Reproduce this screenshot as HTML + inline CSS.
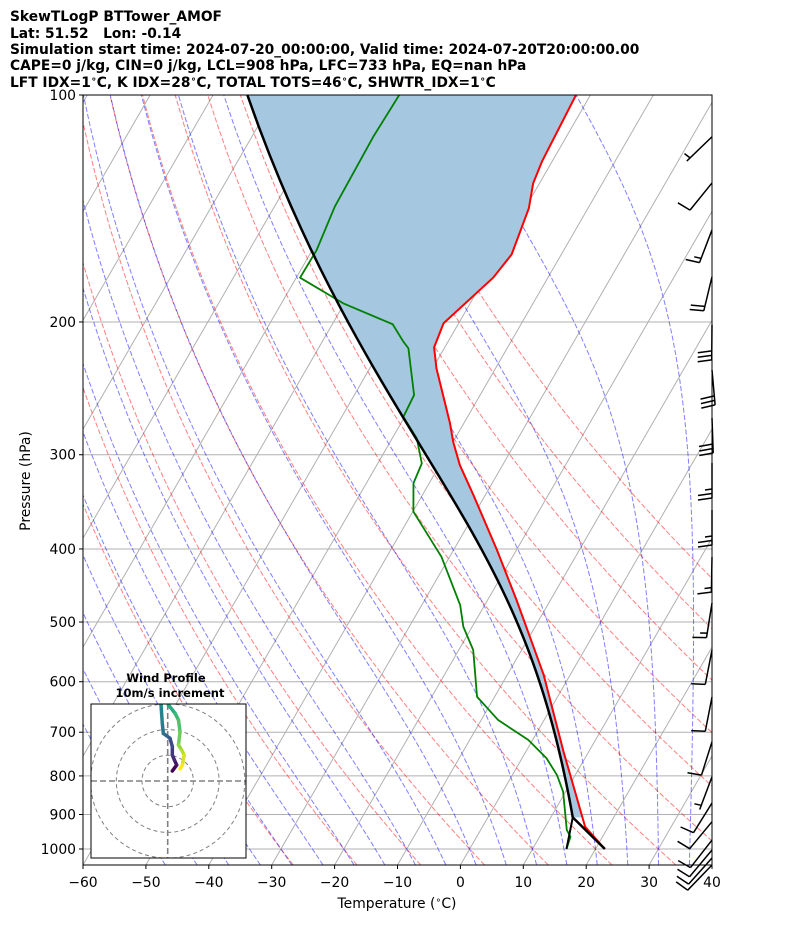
<!DOCTYPE html>
<html><head><meta charset="utf-8"><style>
html,body{margin:0;padding:0;background:#fff;width:794px;height:937px;overflow:hidden}
svg{display:block;font-family:"DejaVu Sans","Liberation Sans",sans-serif}
</style></head><body>
<svg id="chart" width="794" height="937" viewBox="0 0 794 937" xmlns="http://www.w3.org/2000/svg">
<defs>
<clipPath id="plotclip"><rect x="83" y="95" width="629" height="770"/></clipPath>
<clipPath id="hodoclip"><rect x="91" y="704" width="155" height="154"/></clipPath>
</defs>
<g font-weight="bold" font-size="13.8" fill="#000">
<text x="10" y="21">SkewTLogP BTTower_AMOF</text>
<text x="10" y="38">Lat: 51.52&#160;&#160;&#160;Lon: -0.14</text>
<text x="10" y="54">Simulation start time: 2024-07-20_00:00:00, Valid time: 2024-07-20T20:00:00.00</text>
<text x="10" y="70">CAPE=0 j/kg, CIN=0 j/kg, LCL=908 hPa, LFC=733 hPa, EQ=nan hPa</text>
<text x="10" y="87">LFT IDX=1<tspan font-size="9.5" dy="-5">∘</tspan><tspan dy="5">C, K IDX=28</tspan><tspan font-size="9.5" dy="-5">∘</tspan><tspan dy="5">C, TOTAL TOTS=46</tspan><tspan font-size="9.5" dy="-5">∘</tspan><tspan dy="5">C, SHWTR_IDX=1</tspan><tspan font-size="9.5" dy="-5">∘</tspan><tspan dy="5">C</tspan></text>
</g>
<g id="plot" clip-path="url(#plotclip)"></g>
<g id="barbs"></g>
<rect x="83" y="95" width="629" height="770" fill="none" stroke="#000" stroke-width="1"/>
<g id="axes" font-size="13.9" fill="#000"></g>
<text x="30" y="481" font-size="13.9" text-anchor="middle" transform="rotate(-90 30 481)">Pressure (hPa)</text>
<text x="397" y="908" font-size="13.9" text-anchor="middle">Temperature (<tspan font-size="9.5" dy="-5">∘</tspan><tspan dy="5">C)</tspan></text>
<g id="hodo"></g>
</svg>
<script>
// ---- data ----
const tempP = [1000,934,852.6,743,587.7,467.5,401.3,339.2,309.6,288.3,272.5,230.4,216.1,200.8,174.7,162.7,141.3,131,122.6,100];
const tempT = [21.5,16.3,12.2,6.0,-4.2,-15.4,-23.1,-31.9,-36.8,-40.0,-42.2,-49.4,-51.7,-52.4,-48.7,-47.9,-49.4,-51.0,-51.6,-52.3];
const dewP = [1000,963.1,943.6,839.4,797.9,758,716.6,674.5,628.1,544.6,507.3,474.7,409.7,357,327.3,308,285.3,267.2,250,216.7,212.4,201.4,188.9,174.7,160.6,140.6,113.6,100];
const dewT = [15.4,14.9,13.7,9.6,7.1,3.9,-0.7,-7.3,-12.8,-17.7,-21.4,-23.9,-31.3,-39.9,-42.5,-43.0,-46.1,-50.2,-50.5,-55.7,-57.1,-60.4,-70.2,-79.4,-79.3,-80.4,-80.7,-80.4];
const lclP = 908;
const xTicks = [-60,-50,-40,-30,-20,-10,0,10,20,30,40];
const yTicks = [100,200,300,400,500,600,700,800,900,1000];
const barbP = [113.6,130.8,151,174.2,201.8,231.6,268.2,307.7,355.1,410.1,471.8,544.6,628.6,720.6,802,869,920,973,1003,1028,1050];
const barbSpd = [5,10,15,20,30,30,30,25,25,15,15,10,10,10,5,10,10,10,10,10,10];
const barbDir = [226,219,201,193.5,180.5,175,178,180,180,181,189,191,191,197.5,200.5,212,219.5,218,220,222,224];
const hodoU = [1.8,3.5,2.6,1.8,1.8,0.9,-0.4,-1.7,-2.1,-2.6,-1.0,0.3,2.9,4.2,4.8,4.2,5.4,6.4,5.7,4.8];
const hodoV = [3.9,6.2,8.2,10.1,13.4,16.6,17.6,18.5,22.4,29.6,37.6,29.6,26.3,23.7,19.2,14.0,12.1,10.1,6.2,4.7];

// ---- axes ----
const NS='http://www.w3.org/2000/svg';
const X0=83,X1=712,Y0=95,Y1=865,XS=6.29,SK=Math.tan(Math.PI/6);
const DASH='5.1,2.2';
function yP(p){return 849+754*Math.log10(p/1000);}
function xT(T,p){return X0+(T+60)*XS+SK*(Y1-yP(p));}
function mk(tag,attrs,parent){const e=document.createElementNS(NS,tag);for(const k in attrs)e.setAttribute(k,attrs[k]);parent.appendChild(e);return e;}
function pathD(ps,ts){let d='';for(let i=0;i<ps.length;i++){d+=(i?'L':'M')+xT(ts[i],ps[i]).toFixed(2)+','+yP(ps[i]).toFixed(2);}return d;}
const plot=document.getElementById('plot');
const axes=document.getElementById('axes');

const Rd=287.04,Cp=1005.7,Lv=2.501e6,EPS=0.622,KAP=Rd/Cp;
function es(Tc){return 6.112*Math.exp(17.67*Tc/(Tc+243.5));}
function dTdp(p,Tk){const e=es(Tk-273.15);const rs=EPS*e/(p-e);return (Rd*Tk+Lv*rs)/(p*(Cp+Lv*Lv*rs*EPS/(Rd*Tk*Tk)));}
function moist(p0,T0c,pts){const res=[];let T=T0c+273.15,p=p0;
  for(const pt of pts){const n=Math.max(1,Math.ceil(Math.abs(pt-p)/5));const h=(pt-p)/n;
    for(let i=0;i<n;i++){const k1=dTdp(p,T),k2=dTdp(p+h/2,T+h*k1/2),k3=dTdp(p+h/2,T+h*k2/2),k4=dTdp(p+h,T+h*k3);T+=h*(k1+2*k2+2*k3+k4)/6;p+=h;}
    res.push(T-273.15);}
  return res;}
const pUp=[],pDown=[];
for(let p=1000;p>=100;p-=10)pUp.push(p);
pDown.push(1025,1050);

for(const p of yTicks){const l=mk('line',{x1:X0,x2:X1,y1:yP(p),y2:yP(p),stroke:'#b0b0b0','stroke-width':1},plot);

}
for(let T=-170;T<=40;T+=10){const l=mk('line',{x1:xT(T,1050),y1:Y1,x2:xT(T,100),y2:Y0,stroke:'#b0b0b0','stroke-width':1},plot);

}
const pAll=[];for(let p=1050;p>=100;p-=10)pAll.push(p);
for(let th=243.15;th<=363.2;th+=10){const ts=pAll.map(p=>th*Math.pow(p/1000,KAP)-273.15);
const e=mk('path',{d:pathD(pAll,ts),fill:'none',stroke:'rgba(255,0,0,0.5)','stroke-width':1,'stroke-dasharray':DASH},plot);

}
for(let t0=-50;t0<=40;t0+=5){const up=moist(1000,t0,pUp);const dn=moist(1000,t0,pDown);
const ps=[1050,1025].concat(pUp),ts=[dn[1],dn[0]].concat(up);
const e=mk('path',{d:pathD(ps,ts),fill:'none',stroke:'rgba(0,0,255,0.5)','stroke-width':1,'stroke-dasharray':DASH},plot);

}

const Tsfc=tempT[0];
const Tlcl=(Tsfc+273.15)*Math.pow(lclP/tempP[0],KAP)-273.15;
const parP=[lclP];for(let p=900;p>=100;p-=10)parP.push(p);
const parT=[Tlcl].concat(moist(lclP,Tlcl,parP.slice(1)));
function interpT(p){for(let i=0;i<tempP.length-1;i++){if(p<=tempP[i]&&p>=tempP[i+1]){const f=Math.log(p/tempP[i])/Math.log(tempP[i+1]/tempP[i]);return tempT[i]+f*(tempT[i+1]-tempT[i]);}}return tempT[tempT.length-1];}
let sd=pathD(parP,parT);
const tp=[],tt=[];for(let i=tempP.length-1;i>=0;i--){if(tempP[i]<lclP){tp.push(tempP[i]);tt.push(tempT[i]);}}
tp.push(lclP);tt.push(interpT(lclP));
for(let i=0;i<tp.length;i++)sd+='L'+xT(tt[i],tp[i]).toFixed(2)+','+yP(tp[i]).toFixed(2);
const sh=mk('path',{d:sd+'Z',fill:'rgb(165,200,224)',stroke:'none'},plot);


const tl=mk('path',{d:pathD(tempP,tempT),fill:'none',stroke:'#ff0000','stroke-width':2,'stroke-linejoin':'round'},plot);


const dl=mk('path',{d:pathD(dewP,dewT),fill:'none',stroke:'#008000','stroke-width':1.8,'stroke-linejoin':'round'},plot);


const pl=mk('path',{d:pathD([tempP[0]].concat(parP),[Tsfc].concat(parT)),fill:'none',stroke:'#000','stroke-width':2.5,'stroke-linejoin':'round'},plot);


const ll=mk('path',{d:pathD([dewP[0],lclP],[dewT[0],Tlcl]),fill:'none',stroke:'#000','stroke-width':2},plot);



for(const T of xTicks){const x=X0+(T+60)*XS;
const t=mk('line',{x1:x,x2:x,y1:Y1,y2:Y1+4,stroke:'#000','stroke-width':1},axes);


const tx=mk('text',{x:x,y:Y1+22,'text-anchor':'middle'},axes);tx.textContent=(T<0?'\u2212'+(-T):''+T);

}
for(const p of yTicks){const y=yP(p);
const t=mk('line',{x1:X0-4,x2:X0,y1:y,y2:y,stroke:'#000','stroke-width':1},axes);


const tx=mk('text',{x:X0-7,y:y+5,'text-anchor':'end'},axes);tx.textContent=''+p;

}

const bg=document.getElementById('barbs');const L=35;
for(let i=0;i<barbP.length;i++){const y=yP(barbP[i]),x=X1;const a=barbDir[i]*Math.PI/180;
const dx=Math.sin(a),dy=-Math.cos(a);const px=-dy,py=dx;
const g=mk('g',{stroke:'#000','stroke-width':1.5,fill:'none'},bg);


const ex=x+dx*L,ey=y+dy*L;let d='M'+x+','+y+'L'+ex.toFixed(1)+','+ey.toFixed(1);
let s=barbSpd[i];let pos=0;const full=Math.floor(s/10);const half=(s%10)>=5?1:0;
for(let k=0;k<full;k++){const bx=ex-dx*pos,by=ey-dy*pos;d+='M'+bx.toFixed(1)+','+by.toFixed(1)+'l'+(px*14+dx*2).toFixed(1)+','+(py*14+dy*2).toFixed(1);pos+=4.5;}
if(half){if(full===0)pos=4.5;const bx=ex-dx*pos,by=ey-dy*pos;d+='M'+bx.toFixed(1)+','+by.toFixed(1)+'l'+(px*7+dx*1).toFixed(1)+','+(py*7+dy*1).toFixed(1);}
mk('path',{d:d},g);}

const hg=document.getElementById('hodo');const HC={x:167.7,y:781},HS=2.57;
mk('rect',{x:91,y:704,width:155,height:154,fill:'#fff',stroke:'none'},hg);
const hin=mk('g',{'clip-path':'url(#hodoclip)'},hg);
for(const r of [10,20,30]){const c=mk('circle',{cx:HC.x,cy:HC.y,r:r*HS,fill:'none',stroke:'#808080','stroke-width':1,'stroke-dasharray':'4,3'},hin);

}
mk('line',{x1:91,x2:246,y1:HC.y,y2:HC.y,stroke:'#808080','stroke-width':1.6,'stroke-dasharray':'6,3'},hin);
mk('line',{x1:HC.x,x2:HC.x,y1:704,y2:858,stroke:'#808080','stroke-width':1.6,'stroke-dasharray':'6,3'},hin);
const vir=[[68,1,84],[72,36,117],[65,68,135],[53,95,141],[42,120,142],[33,145,140],[34,168,132],[68,191,112],[122,209,81],[189,223,38],[253,231,37]];
function vcol(f){const t=f*(vir.length-1);const i=Math.min(vir.length-2,Math.floor(t));const r=t-i;const c=vir[i].map((v,k)=>Math.round(v+(vir[i+1][k]-v)*r));return 'rgb('+c.join(',')+')';}
for(let i=0;i<hodoU.length-1;i++){const s=mk('line',{x1:HC.x+hodoU[i]*HS,y1:HC.y-hodoV[i]*HS,x2:HC.x+hodoU[i+1]*HS,y2:HC.y-hodoV[i+1]*HS,stroke:vcol(i/(hodoU.length-2)),'stroke-width':3.5,'stroke-linecap':'round'},hin);

}
mk('rect',{x:91,y:704,width:155,height:154,fill:'none',stroke:'#000','stroke-width':1},hg);
const h1=mk('text',{x:166,y:682,'text-anchor':'middle','font-size':11.5,'font-weight':'bold'},hg);h1.textContent='Wind Profile';


const h2=mk('text',{x:170,y:697,'text-anchor':'middle','font-size':11.5,'font-weight':'bold'},hg);h2.textContent='10m/s increment';


</script>
</body></html>
